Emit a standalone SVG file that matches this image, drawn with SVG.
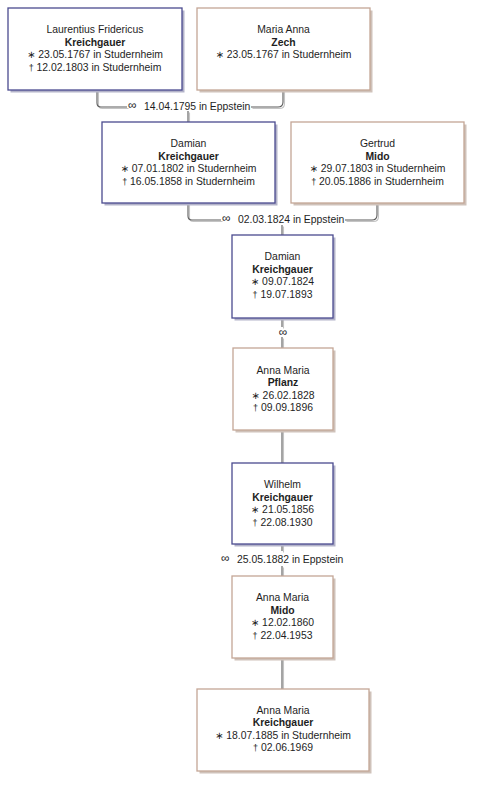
<svg xmlns="http://www.w3.org/2000/svg" width="479" height="787" viewBox="0 0 479 787">
<style>
.bg{fill:#ffffff}
.m .box{fill:#ffffff;stroke:#4b4b8f;stroke-width:1.3}
.m .sh{fill:#b3b3c9}
.f .box{fill:#ffffff;stroke:#c4a696;stroke-width:1.3}
.f .sh{fill:#cfc2ba}
text{font-family:"Liberation Sans",Arial,sans-serif;font-size:10.4px;fill:#1e1e1e;text-anchor:middle}
.b{font-weight:bold}
.ast{font-family:"DejaVu Sans",sans-serif;font-size:10px}
.dag{font-size:9px}
.lbl{text-anchor:start}
.inf{font-size:12px}
.c1{fill:none;stroke:#5a5a5a;stroke-width:1.1}
.c2{fill:none;stroke:#c4c4c4;stroke-width:1.1}
</style>
<rect class="bg" x="0" y="0" width="479" height="787"/>
<defs>
<g id="conns">
<path d="M97,90 V103 Q97,107 101,107 H127"/>
<path d="M251,107 H278 Q283,107 283,102 V90"/>
<path d="M188,111 V122"/>
<path d="M188,203 V216 Q188,220 192,220 H221"/>
<path d="M345,220 H372 Q377,220 377,215 V203"/>
<path d="M282,225 V235"/>
<path d="M282,318 V327"/>
<path d="M282,337 V348"/>
<path d="M282,430 V463"/>
<path d="M282,544 V551"/>
<path d="M282,566 V576"/>
<path d="M282,658 V689"/>
</g>
</defs>
<g id="connectors">
<use href="#conns" class="c2" transform="translate(1.5,1.5)"/>
<use href="#conns" class="c1"/>
<text class="lbl inf" x="128" y="109">∞</text>
<text class="lbl" x="144" y="109.5">14.04.1795 in Eppstein</text>
<text class="lbl inf" x="222" y="222">∞</text>
<text class="lbl" x="238" y="222.5">02.03.1824 in Eppstein</text>
<text class="inf" x="283" y="336">∞</text>
<text class="lbl inf" x="221" y="562">∞</text>
<text class="lbl" x="237" y="562.5">25.05.1882 in Eppstein</text>
</g>
<g id="n1" class="m">
<rect class="sh" x="10.5" y="10.5" width="174" height="82"/>
<rect class="box" x="8" y="8" width="174" height="82"/>
<text x="95" y="33">Laurentius Fridericus</text>
<text class="b" x="95" y="45.5">Kreichgauer</text>
<text x="95" y="58"><tspan class="ast">∗</tspan> 23.05.1767 in Studernheim</text>
<text x="95" y="70.5"><tspan class="dag">†</tspan> 12.02.1803 in Studernheim</text>
</g>
<g id="n2" class="f">
<rect class="sh" x="199.5" y="10.5" width="173" height="82"/>
<rect class="box" x="197" y="8" width="173" height="82"/>
<text x="283.5" y="33">Maria Anna</text>
<text class="b" x="283.5" y="45.5">Zech</text>
<text x="283.5" y="58"><tspan class="ast">∗</tspan> 23.05.1767 in Studernheim</text>
</g>
<g id="n3" class="m">
<rect class="sh" x="104.5" y="124.5" width="173" height="81"/>
<rect class="box" x="102" y="122" width="173" height="81"/>
<text x="188.5" y="147">Damian</text>
<text class="b" x="188.5" y="159.5">Kreichgauer</text>
<text x="188.5" y="172"><tspan class="ast">∗</tspan> 07.01.1802 in Studernheim</text>
<text x="188.5" y="184.5"><tspan class="dag">†</tspan> 16.05.1858 in Studernheim</text>
</g>
<g id="n4" class="f">
<rect class="sh" x="293.5" y="124.5" width="173" height="81"/>
<rect class="box" x="291" y="122" width="173" height="81"/>
<text x="377.5" y="147">Gertrud</text>
<text class="b" x="377.5" y="159.5">Mido</text>
<text x="377.5" y="172"><tspan class="ast">∗</tspan> 29.07.1803 in Studernheim</text>
<text x="377.5" y="184.5"><tspan class="dag">†</tspan> 20.05.1886 in Studernheim</text>
</g>
<g id="n5" class="m">
<rect class="sh" x="234.5" y="237.5" width="101" height="83"/>
<rect class="box" x="232" y="235" width="101" height="83"/>
<text x="282.5" y="260">Damian</text>
<text class="b" x="282.5" y="272.5">Kreichgauer</text>
<text x="282.5" y="285"><tspan class="ast">∗</tspan> 09.07.1824</text>
<text x="282.5" y="297.5"><tspan class="dag">†</tspan> 19.07.1893</text>
</g>
<g id="n6" class="f">
<rect class="sh" x="235.5" y="350.5" width="100" height="82"/>
<rect class="box" x="233" y="348" width="100" height="82"/>
<text x="283" y="373.5">Anna Maria</text>
<text class="b" x="283" y="386">Pflanz</text>
<text x="283" y="398.5"><tspan class="ast">∗</tspan> 26.02.1828</text>
<text x="283" y="411"><tspan class="dag">†</tspan> 09.09.1896</text>
</g>
<g id="n7" class="m">
<rect class="sh" x="234.5" y="465.5" width="101" height="81"/>
<rect class="box" x="232" y="463" width="101" height="81"/>
<text x="282.5" y="488">Wilhelm</text>
<text class="b" x="282.5" y="500.5">Kreichgauer</text>
<text x="282.5" y="513"><tspan class="ast">∗</tspan> 21.05.1856</text>
<text x="282.5" y="525.5"><tspan class="dag">†</tspan> 22.08.1930</text>
</g>
<g id="n8" class="f">
<rect class="sh" x="234.5" y="578.5" width="101" height="82"/>
<rect class="box" x="232" y="576" width="101" height="82"/>
<text x="282.5" y="601">Anna Maria</text>
<text class="b" x="282.5" y="613.5">Mido</text>
<text x="282.5" y="626"><tspan class="ast">∗</tspan> 12.02.1860</text>
<text x="282.5" y="638.5"><tspan class="dag">†</tspan> 22.04.1953</text>
</g>
<g id="n9" class="f">
<rect class="sh" x="199.5" y="691.5" width="172" height="82"/>
<rect class="box" x="197" y="689" width="172" height="82"/>
<text x="283" y="713.5">Anna Maria</text>
<text class="b" x="283" y="726">Kreichgauer</text>
<text x="283" y="738.5"><tspan class="ast">∗</tspan> 18.07.1885 in Studernheim</text>
<text x="283" y="751"><tspan class="dag">†</tspan> 02.06.1969</text>
</g>
</svg>
